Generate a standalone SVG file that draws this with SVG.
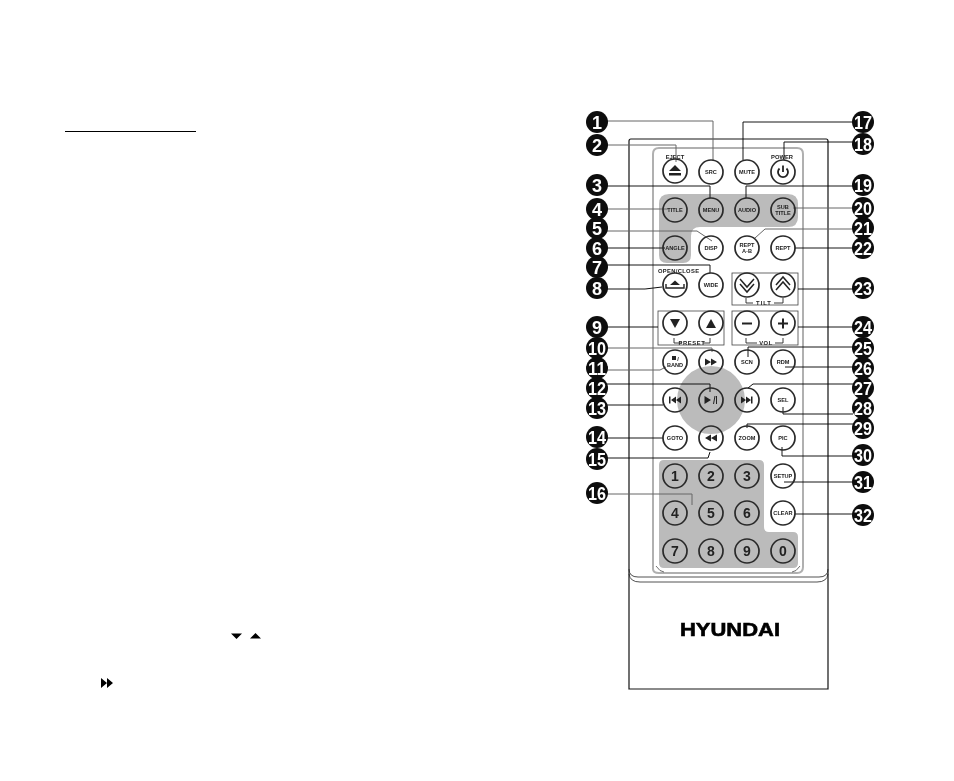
<svg xmlns="http://www.w3.org/2000/svg" width="954" height="781" viewBox="0 0 954 781">
<defs><filter id="soft" filterUnits="userSpaceOnUse" x="0" y="0" width="954" height="781"><feGaussianBlur stdDeviation=".4"/></filter></defs>
<style>
text{font-family:"Liberation Sans",Arial,sans-serif;font-weight:bold;text-anchor:middle}
.o{fill:none;stroke:#111;stroke-width:1.2}
.o2{fill:none;stroke:#222;stroke-width:.8}
.z{fill:#bbb}
.btn{fill:none;stroke:#2a2a2a;stroke-width:1.700}
.l{font-size:5.600px;fill:#222}
.n{font-size:14px;fill:#222}
.cap{font-size:5.800px;fill:#222}
.g{fill:#222}
.badge circle{fill:#111;r:11px}
.badge text{font-size:18px;fill:#fff;transform:translateY(.5px)}
.c path{fill:none;stroke:#111;stroke-width:1}
.c path.h{stroke:#666}
.box{fill:none;stroke:#444;stroke-width:.8}
.br{fill:none;stroke:#222;stroke-width:.9}
</style>
<g id="page-marks">
<path d="M65 131.500H196" stroke="#000" stroke-width="1.200"/>
<path d="M231 633.500H242L236.500 639Z M250 638.500H261L255.500 633Z" fill="#000"/>
<path d="M101 678L107 683 101 688Z M107 678L113 683 107 688Z" fill="#000"/>
</g>
<g id="remote" filter="url(#soft)">
<g id="remote-body">
<path class="o" d="M629 689V141Q629 139 631 139H826Q828 139 828 141V689Z"/>
<path class="o2" d="M629 569Q629 577 638 577H819Q828 577 828 569"/>
<path class="o2" d="M629 574Q630 582 640 582H817Q827 582 828 574"/>
<path d="M653 569V154Q653 148 659 148H797Q803 148 803 154V567Q803 573 797 573H659Q653 573 653 569Z" fill="none" stroke="#b0b0b0" stroke-width="2"/>
<path d="M656 566Q660 572 664 572M800 566Q796 572 792 572" fill="none" stroke="#333" stroke-width=".7"/>
<path class="z" d="M669 194H788Q798 194 798 204V217Q798 227 788 227H700Q691 227 691 236V255Q691 263 683 263H667Q659 263 659 255V204Q659 194 669 194Z"/>
<circle class="z" cx="711" cy="400" r="34"/>
<path class="z" d="M664 460H759Q764 460 764 465V527Q764 532 769 532H793Q798 532 798 537V563Q798 568 793 568H664Q659 568 659 563V465Q659 460 664 460Z"/>
<rect class="box" x="658" y="311" width="66" height="34"/>
<rect class="box" x="732" y="273" width="66" height="32"/>
<rect class="box" x="732" y="311" width="66" height="34"/>
<path class="br" d="M746 298V303H753M774 303H783V298M674 338V343H682M703 343H710V338M746 338V343H757M775 343H783V338"/>
<text class="cap" x="675" y="159">EJECT</text>
<text class="cap" x="782" y="159">POWER</text>
<text class="cap" x="678.500" y="273" textLength="41">OPEN/CLOSE</text>
<text class="cap" x="764" y="305" letter-spacing="1">TILT</text>
<text class="cap" x="692" y="344.500" letter-spacing=".6">PRESET</text>
<text class="cap" x="766" y="344.500" letter-spacing=".6">VOL</text>
</g>
<g id="logo"><text x="730" y="636" font-size="19" textLength="100" lengthAdjust="spacingAndGlyphs" fill="#000" stroke="#000" stroke-width=".6">HYUNDAI</text></g>
<g class="c" id="connectors">
<path class="h" d="M607 121H713V160"/>
<path class="h" d="M607 145H676V162"/>
<path d="M607 186H710V198"/>
<path class="h" d="M607 209H668"/>
<path class="h" d="M607 231H697L712 241"/>
<path d="M607 248H665"/>
<path d="M607 265H710V273"/>
<path d="M607 289H645L662 287"/>
<path d="M607 327H658"/>
<path class="h" d="M607 348H712V352"/>
<path class="h" d="M607 370H660L666 367"/>
<path d="M607 384H710V392"/>
<path d="M607 405H663"/>
<path d="M607 438H663"/>
<path d="M607 458H708L710 452"/>
<path class="h" d="M607 494H692V505"/>
<path d="M853 122H743V160"/>
<path d="M853 142H784V160"/>
<path d="M853 186H746V198"/>
<path class="h" d="M853 208H793"/>
<path class="h" d="M853 229H765L755 238"/>
<path d="M853 248H795"/>
<path d="M853 289H798"/>
<path d="M853 327H798"/>
<path d="M853 347H748V357"/>
<path d="M853 367H785"/>
<path d="M853 384H753L748 388"/>
<path d="M853 414H783V407"/>
<path d="M853 424H747V428"/>
<path d="M853 456H782V447"/>
<path d="M853 482H784"/>
<path d="M853 514H795"/>
</g>
<g id="btn-eject"><circle class="btn" cx="675" cy="171" r="12"/><path class="g" d="M669 171L675 165 681 171ZM669 173H681V175.500H669Z"/></g>
<g id="btn-src"><circle class="btn" cx="711" cy="172" r="12"/><text class="l" x="711" y="174">SRC</text></g>
<g id="btn-mute"><circle class="btn" cx="747" cy="172" r="12"/><text class="l" x="747" y="174">MUTE</text></g>
<g id="btn-power"><circle class="btn" cx="783" cy="172" r="12"/><path d="M779.500 168.500A5 5 0 1 0 786.500 168.500M783 165.500V172" fill="none" stroke="#222" stroke-width="1.800"/></g>
<g id="btn-title"><circle class="btn" cx="675" cy="210" r="12"/><text class="l" x="675" y="212">TITLE</text></g>
<g id="btn-menu"><circle class="btn" cx="711" cy="210" r="12"/><text class="l" x="711" y="212">MENU</text></g>
<g id="btn-audio"><circle class="btn" cx="747" cy="210" r="12"/><text class="l" x="747" y="212">AUDIO</text></g>
<g id="btn-subtitle"><circle class="btn" cx="783" cy="210" r="12"/><text class="l" x="783" y="208.500">SUB</text><text class="l" x="783" y="215">TITLE</text></g>
<g id="btn-angle"><circle class="btn" cx="675" cy="248" r="12"/><text class="l" x="675" y="250">ANGLE</text></g>
<g id="btn-disp"><circle class="btn" cx="711" cy="248" r="12"/><text class="l" x="711" y="250">DISP</text></g>
<g id="btn-repta"><circle class="btn" cx="747" cy="248" r="12"/><text class="l" x="747" y="246.500">REPT</text><text class="l" x="747" y="253">A-B</text></g>
<g id="btn-rept"><circle class="btn" cx="783" cy="248" r="12"/><text class="l" x="783" y="250">REPT</text></g>
<g id="btn-open"><circle class="btn" cx="675" cy="285" r="12"/><path class="g" d="M670 285L675 280.500 680 285Z"/><path d="M666 284V288H684V284" fill="none" stroke="#222" stroke-width="1.400"/></g>
<g id="btn-wide"><circle class="btn" cx="711" cy="285" r="12"/><text class="l" x="711" y="287">WIDE</text></g>
<g id="btn-tilt-down"><circle class="btn" cx="747" cy="285" r="12"/><path d="M740 279L747 287 754 279M740 284L747 292 754 284" fill="none" stroke="#222" stroke-width="1.500"/></g>
<g id="btn-tilt-up"><circle class="btn" cx="783" cy="285" r="12"/><path d="M776 285L783 277 790 285M776 290L783 282 790 290" fill="none" stroke="#222" stroke-width="1.500"/></g>
<g id="btn-preset-down"><circle class="btn" cx="675" cy="323" r="12"/><path class="g" d="M670 319H680L675 328Z"/></g>
<g id="btn-preset-up"><circle class="btn" cx="711" cy="323" r="12"/><path class="g" d="M706 328H716L711 319Z"/></g>
<g id="btn-vol-down"><circle class="btn" cx="747" cy="323" r="12"/><path d="M742 323.500H752" stroke="#222" stroke-width="2"/></g>
<g id="btn-vol-up"><circle class="btn" cx="783" cy="323" r="12"/><path d="M778 323.500H788M783 318.500V328.500" stroke="#222" stroke-width="2"/></g>
<g id="btn-band"><circle class="btn" cx="675" cy="362" r="12"/><path class="g" d="M672 356H676V360H672Z"/><text class="l" x="678" y="360.500">/</text><text class="l" x="675" y="367">BAND</text></g>
<g id="btn-ff"><circle class="btn" cx="711" cy="362" r="12"/><path class="g" d="M705 358.500L711 362 705 365.500ZM711 358.500L717 362 711 365.500Z"/></g>
<g id="btn-scn"><circle class="btn" cx="747" cy="362" r="12"/><text class="l" x="747" y="364">SCN</text></g>
<g id="btn-rdm"><circle class="btn" cx="783" cy="362" r="12"/><text class="l" x="783" y="364">RDM</text></g>
<g id="btn-prev"><circle class="btn" cx="675" cy="400" r="12"/><path class="g" d="M669 396.500H670.500V403.500H669ZM676 396.500V403.500L671 400ZM681 396.500V403.500L676 400Z"/></g>
<g id="btn-play"><circle class="btn" cx="711" cy="400" r="12"/><path class="g" d="M704.500 396L711 400 704.500 404Z"/><path d="M715 396L713.500 404M716.500 396V404" stroke="#222" stroke-width="1"/></g>
<g id="btn-next"><circle class="btn" cx="747" cy="400" r="12"/><path class="g" d="M741 396.500L746 400 741 403.500ZM746 396.500L751 400 746 403.500ZM751 396.500H752.500V403.500H751Z"/></g>
<g id="btn-sel"><circle class="btn" cx="783" cy="400" r="12"/><text class="l" x="783" y="402">SEL</text></g>
<g id="btn-goto"><circle class="btn" cx="675" cy="438" r="12"/><text class="l" x="675" y="440">GOTO</text></g>
<g id="btn-rew"><circle class="btn" cx="711" cy="438" r="12"/><path class="g" d="M711 434.500V441.500L705 438ZM717 434.500V441.500L711 438Z"/></g>
<g id="btn-zoom"><circle class="btn" cx="747" cy="438" r="12"/><text class="l" x="747" y="440">ZOOM</text></g>
<g id="btn-pic"><circle class="btn" cx="783" cy="438" r="12"/><text class="l" x="783" y="440">PIC</text></g>
<g id="btn-setup"><circle class="btn" cx="783" cy="476" r="12"/><text class="l" x="783" y="478">SETUP</text></g>
<g id="btn-clear"><circle class="btn" cx="783" cy="513" r="12"/><text class="l" x="783" y="515">CLEAR</text></g>
<g id="btn-1"><circle class="btn" cx="675" cy="476" r="12"/><text class="n" x="675" y="481">1</text></g>
<g id="btn-2"><circle class="btn" cx="711" cy="476" r="12"/><text class="n" x="711" y="481">2</text></g>
<g id="btn-3"><circle class="btn" cx="747" cy="476" r="12"/><text class="n" x="747" y="481">3</text></g>
<g id="btn-4"><circle class="btn" cx="675" cy="513" r="12"/><text class="n" x="675" y="518">4</text></g>
<g id="btn-5"><circle class="btn" cx="711" cy="513" r="12"/><text class="n" x="711" y="518">5</text></g>
<g id="btn-6"><circle class="btn" cx="747" cy="513" r="12"/><text class="n" x="747" y="518">6</text></g>
<g id="btn-7"><circle class="btn" cx="675" cy="551" r="12"/><text class="n" x="675" y="556">7</text></g>
<g id="btn-8"><circle class="btn" cx="711" cy="551" r="12"/><text class="n" x="711" y="556">8</text></g>
<g id="btn-9"><circle class="btn" cx="747" cy="551" r="12"/><text class="n" x="747" y="556">9</text></g>
<g id="btn-0"><circle class="btn" cx="783" cy="551" r="12"/><text class="n" x="783" y="556">0</text></g>
<g class="badge" id="n1"><circle cx="597" cy="122" r="11"/><text x="597" y="128">1</text></g>
<g class="badge" id="n2"><circle cx="597" cy="145" r="11"/><text x="597" y="151">2</text></g>
<g class="badge" id="n3"><circle cx="597" cy="185" r="11"/><text x="597" y="191">3</text></g>
<g class="badge" id="n4"><circle cx="597" cy="209" r="11"/><text x="597" y="215">4</text></g>
<g class="badge" id="n5"><circle cx="597" cy="228" r="11"/><text x="597" y="234">5</text></g>
<g class="badge" id="n6"><circle cx="597" cy="248" r="11"/><text x="597" y="254">6</text></g>
<g class="badge" id="n7"><circle cx="597" cy="267" r="11"/><text x="597" y="273">7</text></g>
<g class="badge" id="n8"><circle cx="597" cy="288" r="11"/><text x="597" y="294">8</text></g>
<g class="badge" id="n9"><circle cx="597" cy="327" r="11"/><text x="597" y="333">9</text></g>
<g class="badge" id="n10"><circle cx="597" cy="348" r="11"/><text x="597" y="354" textLength="18" lengthAdjust="spacingAndGlyphs">10</text></g>
<g class="badge" id="n11"><circle cx="597" cy="368" r="11"/><text x="597" y="374" textLength="18" lengthAdjust="spacingAndGlyphs">11</text></g>
<g class="badge" id="n12"><circle cx="597" cy="388" r="11"/><text x="597" y="394" textLength="18" lengthAdjust="spacingAndGlyphs">12</text></g>
<g class="badge" id="n13"><circle cx="597" cy="408" r="11"/><text x="597" y="414" textLength="18" lengthAdjust="spacingAndGlyphs">13</text></g>
<g class="badge" id="n14"><circle cx="597" cy="437" r="11"/><text x="597" y="443" textLength="18" lengthAdjust="spacingAndGlyphs">14</text></g>
<g class="badge" id="n15"><circle cx="597" cy="459" r="11"/><text x="597" y="465" textLength="18" lengthAdjust="spacingAndGlyphs">15</text></g>
<g class="badge" id="n16"><circle cx="597" cy="493" r="11"/><text x="597" y="499" textLength="18" lengthAdjust="spacingAndGlyphs">16</text></g>
<g class="badge" id="n17"><circle cx="863" cy="122" r="11"/><text x="863" y="128" textLength="18" lengthAdjust="spacingAndGlyphs">17</text></g>
<g class="badge" id="n18"><circle cx="863" cy="144" r="11"/><text x="863" y="150" textLength="18" lengthAdjust="spacingAndGlyphs">18</text></g>
<g class="badge" id="n19"><circle cx="863" cy="185" r="11"/><text x="863" y="191" textLength="18" lengthAdjust="spacingAndGlyphs">19</text></g>
<g class="badge" id="n20"><circle cx="863" cy="208" r="11"/><text x="863" y="214" textLength="18" lengthAdjust="spacingAndGlyphs">20</text></g>
<g class="badge" id="n21"><circle cx="863" cy="228" r="11"/><text x="863" y="234" textLength="18" lengthAdjust="spacingAndGlyphs">21</text></g>
<g class="badge" id="n22"><circle cx="863" cy="248" r="11"/><text x="863" y="254" textLength="18" lengthAdjust="spacingAndGlyphs">22</text></g>
<g class="badge" id="n23"><circle cx="863" cy="288" r="11"/><text x="863" y="294" textLength="18" lengthAdjust="spacingAndGlyphs">23</text></g>
<g class="badge" id="n24"><circle cx="863" cy="327" r="11"/><text x="863" y="333" textLength="18" lengthAdjust="spacingAndGlyphs">24</text></g>
<g class="badge" id="n25"><circle cx="863" cy="348" r="11"/><text x="863" y="354" textLength="18" lengthAdjust="spacingAndGlyphs">25</text></g>
<g class="badge" id="n26"><circle cx="863" cy="368" r="11"/><text x="863" y="374" textLength="18" lengthAdjust="spacingAndGlyphs">26</text></g>
<g class="badge" id="n27"><circle cx="863" cy="388" r="11"/><text x="863" y="394" textLength="18" lengthAdjust="spacingAndGlyphs">27</text></g>
<g class="badge" id="n28"><circle cx="863" cy="408" r="11"/><text x="863" y="414" textLength="18" lengthAdjust="spacingAndGlyphs">28</text></g>
<g class="badge" id="n29"><circle cx="863" cy="428" r="11"/><text x="863" y="434" textLength="18" lengthAdjust="spacingAndGlyphs">29</text></g>
<g class="badge" id="n30"><circle cx="863" cy="455" r="11"/><text x="863" y="461" textLength="18" lengthAdjust="spacingAndGlyphs">30</text></g>
<g class="badge" id="n31"><circle cx="863" cy="482" r="11"/><text x="863" y="488" textLength="18" lengthAdjust="spacingAndGlyphs">31</text></g>
<g class="badge" id="n32"><circle cx="863" cy="515" r="11"/><text x="863" y="521" textLength="18" lengthAdjust="spacingAndGlyphs">32</text></g>
</g>
</svg>
